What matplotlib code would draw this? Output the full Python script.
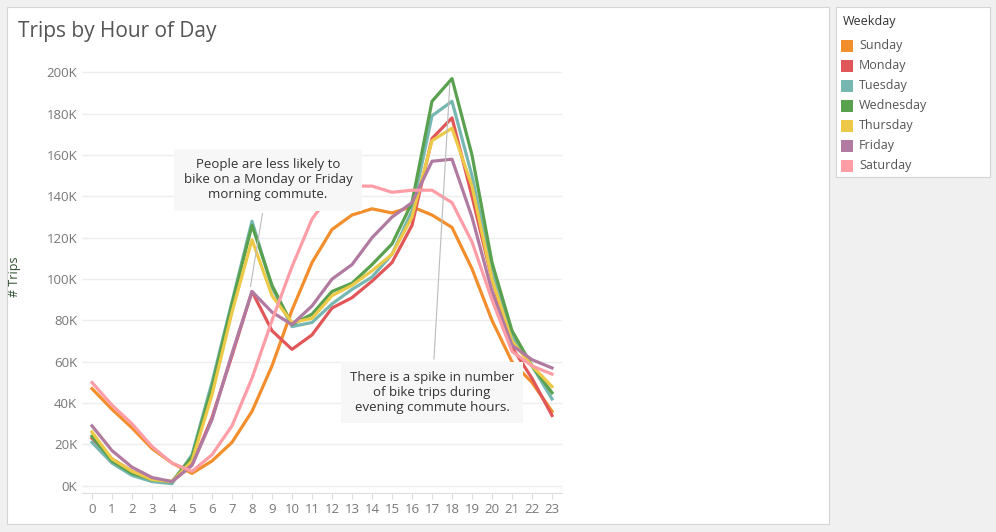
import matplotlib.pyplot as plt
import numpy as np

hours = list(range(24))
days = ['Sunday', 'Monday', 'Tuesday', 'Wednesday', 'Thursday', 'Friday', 'Saturday']
colors = ['#f28e2b', '#e15759', '#76b7b2', '#59a14f', '#edc948', '#b07aa1', '#ff9da7']

sunday = [47, 37, 28, 18, 11, 6, 12, 21, 36, 58, 85, 108, 124, 131, 134, 132, 135, 131, 125, 105, 80, 60, 50, 36]
monday = [23, 13, 7, 3, 2, 10, 33, 63, 94, 75, 66, 73, 86, 91, 99, 108, 126, 168, 178, 140, 100, 67, 52, 34]
tuesday = [21, 11, 5, 2, 1, 15, 50, 89, 128, 96, 77, 79, 88, 95, 101, 112, 133, 179, 186, 150, 103, 72, 58, 42]
wednesday = [24, 12, 6, 3, 2, 14, 48, 88, 126, 97, 78, 83, 94, 98, 107, 117, 137, 186, 197, 160, 108, 75, 58, 45]
thursday = [26, 13, 7, 3, 2, 12, 44, 84, 119, 92, 79, 81, 92, 97, 104, 112, 130, 167, 173, 145, 100, 70, 58, 48]
friday = [29, 17, 9, 4, 2, 10, 32, 64, 94, 84, 78, 87, 100, 107, 120, 130, 137, 157, 158, 130, 94, 68, 61, 57]
saturday = [50, 39, 30, 19, 11, 7, 15, 29, 52, 80, 106, 129, 142, 145, 145, 142, 143, 143, 137, 118, 90, 65, 58, 54]
series = [sunday, monday, tuesday, wednesday, thursday, friday, saturday]

plt.rcParams['font.family'] = ['Open Sans', 'DejaVu Sans']
fig = plt.figure(figsize=(9.96, 5.32), dpi=100, facecolor='#f0f0f0')

# white panels, kept behind the axes
fig.patches.append(plt.Rectangle((7 / 996, 1 - 524 / 532), 822 / 996, 517 / 532, transform=fig.transFigure,
                                 facecolor='white', edgecolor='#d4d4d4', lw=0.8, zorder=-5))
fig.patches.append(plt.Rectangle((836 / 996, 1 - 177 / 532), 154 / 996, 170 / 532, transform=fig.transFigure,
                                 facecolor='white', edgecolor='#d4d4d4', lw=0.8, zorder=-5))
fig.text(18 / 996, 1 - 32 / 532, 'Trips by Hour of Day', fontsize=15, color='#555555', va='center')

ax = fig.add_axes([82 / 996, 1 - 493 / 532, (562 - 82) / 996, (493 - 60) / 532])
ax.patch.set_alpha(0)
for s, c, d in zip(series, colors, days):
    ax.plot(hours, [v * 1000 for v in s], color=c, lw=2.3, label=d)

ax.set_xlim(-0.5, 23.5)
ax.set_ylim(-3500, 206000)
ax.set_xticks(hours)
ax.set_yticks(range(0, 200001, 20000))
ax.set_yticklabels([f'{v // 1000}K' for v in range(0, 200001, 20000)])
ax.tick_params(colors='#777777', labelsize=9.5, length=0)
ax.tick_params(axis='x', length=4, color='#dddddd')
ax.grid(axis='y', color='#eeeeee', lw=1)
ax.set_axisbelow(True)
for sp in ['top', 'right', 'left']:
    ax.spines[sp].set_visible(False)
ax.spines['bottom'].set_color('#dddddd')
ax.set_ylabel('# Trips', color='#2f4f2f', fontsize=9, labelpad=18)

box = dict(boxstyle='square,pad=0.7', facecolor='#f7f7f7', edgecolor='none')
ax.annotate('People are less likely to\nbike on a Monday or Friday\nmorning commute.', xy=(7.9, 95000),
            xytext=(8.8, 148000), ha='center', va='center', fontsize=9.5, color='#333333', bbox=box,
            arrowprops=dict(arrowstyle='-', color='#bbbbbb', lw=0.8))
ax.annotate('There is a spike in number\nof bike trips during\nevening commute hours.', xy=(17.9, 196000),
            xytext=(17.0, 45000), ha='center', va='center', fontsize=9.5, color='#333333', bbox=box,
            arrowprops=dict(arrowstyle='-', color='#bbbbbb', lw=0.8))

fig.text(843 / 996, 1 - 21 / 532, 'Weekday', fontsize=9, color='#333333', va='center')
for i, (d, c) in enumerate(zip(days, colors)):
    y = 1 - (46 + 20 * i) / 532
    fig.patches.append(plt.Rectangle((841 / 996, y - 6 / 532), 12 / 996, 12 / 532, transform=fig.transFigure,
                                     facecolor=c, edgecolor='none'))
    fig.text(859 / 996, y, d, fontsize=9, color='#555555', va='center')

fig.savefig('out.png', dpi=100, facecolor=fig.get_facecolor())
